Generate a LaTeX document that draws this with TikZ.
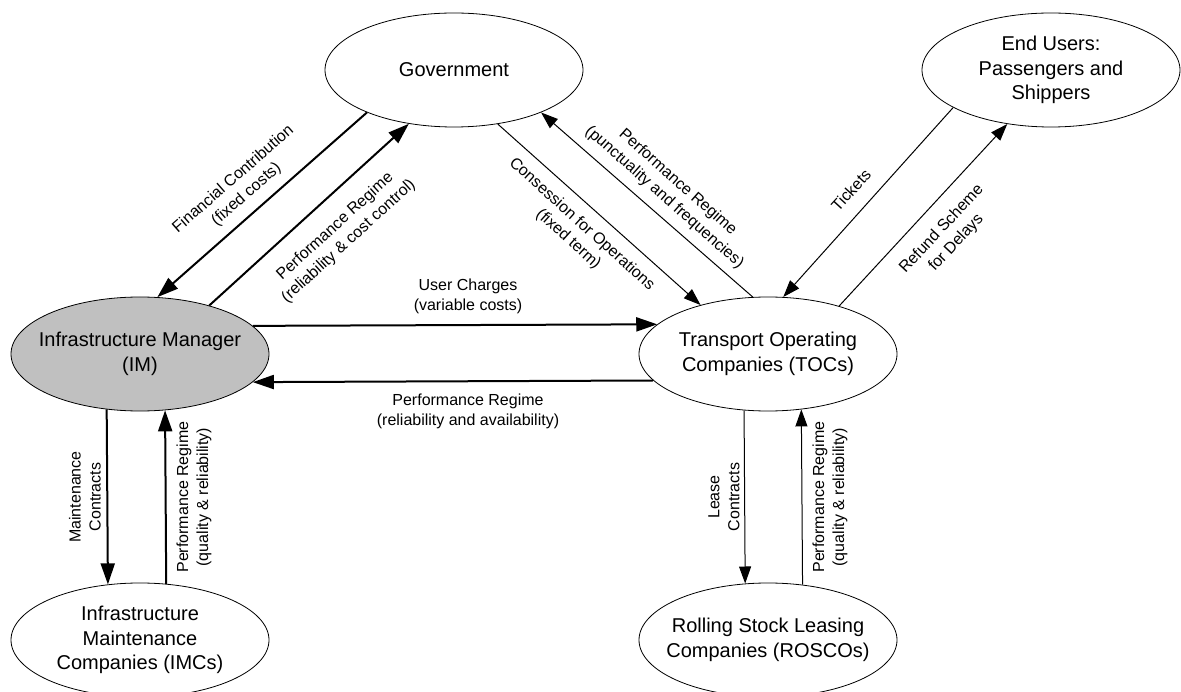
\documentclass[tikz,border=0pt]{standalone}
\usepackage{fontspec}
\setmainfont{Liberation Sans}
\usetikzlibrary{shapes.geometric,arrows.meta}
\definecolor{imgray}{RGB}{192,192,192}
\begin{document}
\begin{tikzpicture}[x=1pt,y=-1pt,
  ent/.style={ellipse, draw, line width=0.8pt, minimum width=258pt, minimum height=114pt, inner sep=0pt},
  ttl/.style={font=\fontsize{20}{24.5}\selectfont, align=center, inner sep=0pt},
  lbl/.style={font=\fontsize{16}{20}\selectfont, align=center, inner sep=0pt},
  thk/.style={line width=2pt, -{Triangle[length=21pt,width=14pt]}},
  thn/.style={line width=1pt, -{Triangle[length=17pt,width=12pt]}}]
\useasboundingbox (0,0) rectangle (1181,692);
% entities
\node[ent] (gov) at (454,70) {};
\node[ent] (eu) at (1051,70) {};
\node[ent, fill=imgray] (im) at (140,354) {};
\node[ent] (toc) at (768,354) {};
\node[ent] (imc) at (140,640) {};
\node[ent] (rosco) at (768,640) {};
\node[ttl] (tgov) at (gov) {Government};
\node[ttl] (teu) at (eu) {End Users:\\Passengers and\\Shippers};
\node[ttl] (tim) at (im) {Infrastructure Manager\\(IM)};
\node[ttl] (ttoc) at (toc) {Transport Operating\\Companies (TOCs)};
\node[ttl] (timc) at (imc) {Infrastructure\\Maintenance\\Companies (IMCs)};
\node[ttl] (trosco) at (rosco) {Rolling Stock Leasing\\Companies (ROSCOs)};
% connectors
\draw[thk] (gov.206.3) -- (im.73.4);
\draw[thk] (im.35) -- (gov.230.3);
\draw[thk] (im.14.6) -- (toc.165.4);
\draw[thk] (toc.193.3) -- (im.346.7);
\draw[thn] (gov.309) -- (toc.144.6);
\draw[thn] (toc.105.7) -- (gov.334.7);
\draw[thn] (eu.201.6) -- (toc.75.3);
\draw[thn] (toc.34.1) -- (eu.231.6);
\draw[thk] (im.239.9) -- (imc.120.1);
\draw[thk] (imc.65.9) -- (im.294.1);
\draw[thn] (toc.247.7) -- (rosco.112.3);
\draw[thn] (rosco.58.3) -- (toc.301.7);
% labels
\node[lbl, rotate=41.2] (lfc) at (240,187) {Financial Contribution\\(fixed costs)};
\node[lbl, rotate=42.3] (lprc) at (342,234) {Performance Regime\\(reliability \& cost control)};
\node[lbl, rotate=-42] (lcon) at (575,232) {Consession for Operations\\(fixed term)};
\node[lbl, rotate=-41.5] (lprp) at (671,190) {Performance Regime\\(punctuality and frequencies)};
\node[lbl, rotate=47.5] (ltick) at (851,190) {Tickets};
\node[lbl, rotate=47] (lref) at (949,236) {Refund Scheme\\for Delays};
\node[lbl] (luc) at (468,296.5) {User Charges\\(variable costs)};
\node[lbl] (lpra) at (468,411) {Performance Regime\\(reliability and availability)};
\node[lbl, rotate=90] (lmc) at (85,497) {Maintenance\\Contracts};
\node[lbl, rotate=90] (lprq) at (194,497) {Performance Regime\\(quality \& reliability)};
\node[lbl, rotate=90] (llc) at (724,497) {Lease\\Contracts};
\node[lbl, rotate=90] (lprr) at (830,497) {Performance Regime\\(quality \& reliability)};
\end{tikzpicture}
\end{document}
